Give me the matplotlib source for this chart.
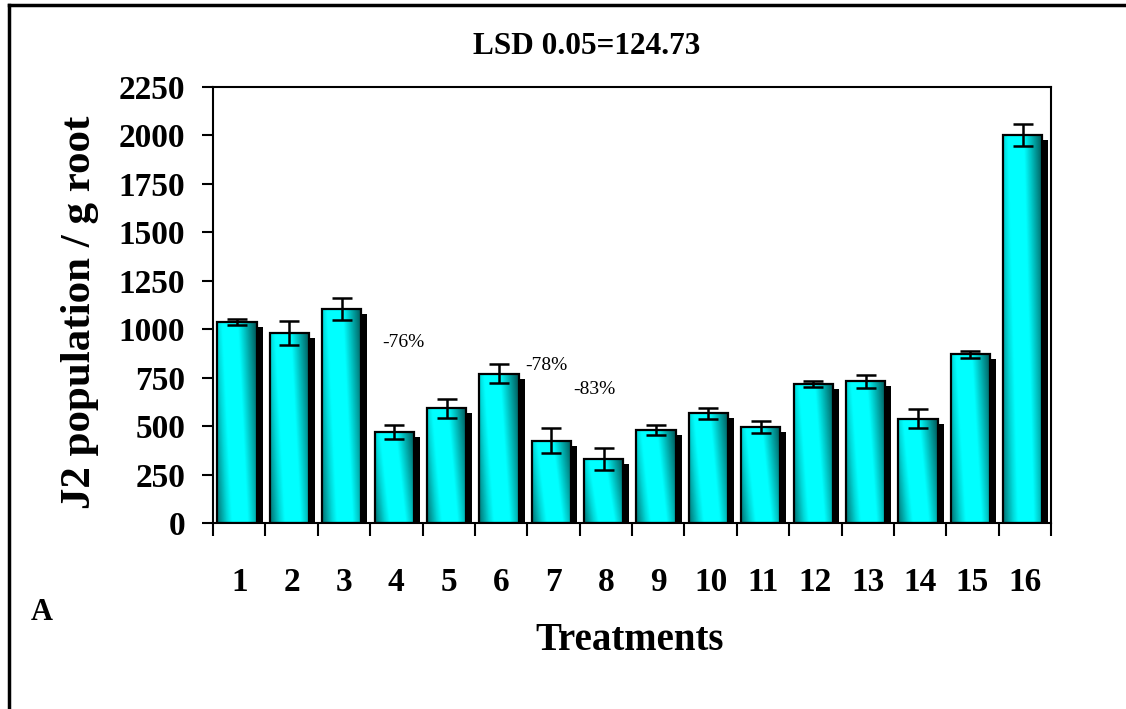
import numpy as np
import matplotlib
matplotlib.use("Agg")
import matplotlib.pyplot as plt
from matplotlib.colors import LinearSegmentedColormap
from matplotlib.patches import Rectangle
from matplotlib.lines import Line2D

# ---- data ----
treatments = [str(i) for i in range(1, 17)]
values = [1036, 979, 1103, 468, 592, 769, 425, 330, 480, 566, 495, 716, 731, 537, 870, 2004]
errors = [15, 62, 56, 36, 49, 49, 63, 55, 28, 29, 29, 16, 35, 49, 16, 56]
annotations = [("-76%", 3.725, 934), ("-78%", 6.454, 815), ("-83%", 7.37, 691)]
yticks = [0, 250, 500, 750, 1000, 1250, 1500, 1750, 2000, 2250]
title_text = "LSD 0.05=124.73"
ylabel_text = "J2 population / g root"
xlabel_text = "Treatments"
panel_label = "A"

plt.rcParams['font.family'] = ['Liberation Serif', 'DejaVu Serif']

W, H = 1126, 709
fig = plt.figure(figsize=(W / 100, H / 100), dpi=100)
ax = fig.add_axes([213 / W, 1 - 523 / H, (1051 - 213) / W, (523 - 87) / H])

x = np.arange(1, len(values) + 1)
ax.set_xlim(0.5, len(values) + 0.5)
ax.set_ylim(0, 2250)

k = 0.25
cmap = LinearSegmentedColormap.from_list(
    "bar", [(0.0, (0.0, 0.45, 0.45)),
            (0.2, (0.0, 0.85, 0.85)),
            (0.3, (0.0, 1.0, 1.0)),
            (0.62, (0.0, 1.0, 1.0)),
            (1.0, (0.0, 0.33, 0.33))])

bw = 0.75
shift = -0.04
px_x = 1.0 / 52.4          # data units per pixel (x)
px_y = 2250 / 436.0        # data units per pixel (y)

for xi, v in zip(x, values):
    x0 = xi + shift - bw / 2
    # shadow
    sh = Rectangle((x0 + 6 * px_x, 0), bw, v - 5 * px_y, facecolor='black',
                   edgecolor='none', zorder=1)
    ax.add_patch(sh)
    # gradient fill
    ny, nx = 60, 60
    xx = np.linspace(0, 1, nx)
    yy = np.linspace(0, 1, ny)  # 0 bottom -> 1 top
    X, Y = np.meshgrid(xx, yy)
    D = X - k * (1 - Y)
    D = (D + k) / (1 + k)
    im = ax.imshow(D, cmap=cmap, extent=(x0, x0 + bw, 0, v), origin='lower',
                   aspect='auto', zorder=2, vmin=0, vmax=1, interpolation='bilinear')
    clip = Rectangle((x0, 0), bw, v, transform=ax.transData)
    im.set_clip_path(clip)
    rect = Rectangle((x0, 0), bw, v, facecolor='none', edgecolor='black',
                     linewidth=1.6, zorder=3)
    ax.add_patch(rect)

ax.errorbar(x + shift, values, yerr=errors, fmt='none', ecolor='black',
            elinewidth=1.8, capsize=7, capthick=1.8, zorder=4)

for txt, tx, ty in annotations:
    ax.text(tx, ty, txt, fontsize=14, ha='left', va='center', color='black')

ax.set_yticks(yticks)
ax.set_yticklabels([str(t) for t in yticks], fontsize=24, fontweight='bold')
ax.tick_params(axis='y', direction='out', length=8, width=1.5, pad=12)

ax.set_xticks(x)
ax.set_xticklabels(treatments, fontsize=24, fontweight='bold')
ax.set_xticks(np.arange(0.5, len(values) + 1, 1), minor=True)
ax.tick_params(axis='x', which='major', length=0, pad=32)
ax.tick_params(axis='x', which='minor', direction='out', length=9, width=1.5)

for s in ax.spines.values():
    s.set_linewidth(1.5)
    s.set_color('black')

fig.text(80 / W, 1 - 312 / H, ylabel_text, rotation=90, fontsize=31,
         fontweight='bold', ha='center', va='center')
fig.text(630 / W, 1 - 640 / H, xlabel_text, fontsize=28, fontweight='bold',
         ha='center', va='center')
fig.text(587 / W, 1 - 46 / H, title_text, fontsize=22.5, fontweight='bold',
         ha='center', va='center')
fig.text(42 / W, 1 - 612 / H, panel_label, fontsize=22, fontweight='bold',
         ha='center', va='center')

# outer frame (top and left)
fig.add_artist(Line2D([9 / W, 1.0], [1 - 5 / H, 1 - 5 / H], transform=fig.transFigure,
                      color='black', linewidth=2.5))
fig.add_artist(Line2D([9 / W, 9 / W], [0, 1 - 5 / H], transform=fig.transFigure,
                      color='black', linewidth=2.5))

fig.savefig("out.png", dpi=100)
